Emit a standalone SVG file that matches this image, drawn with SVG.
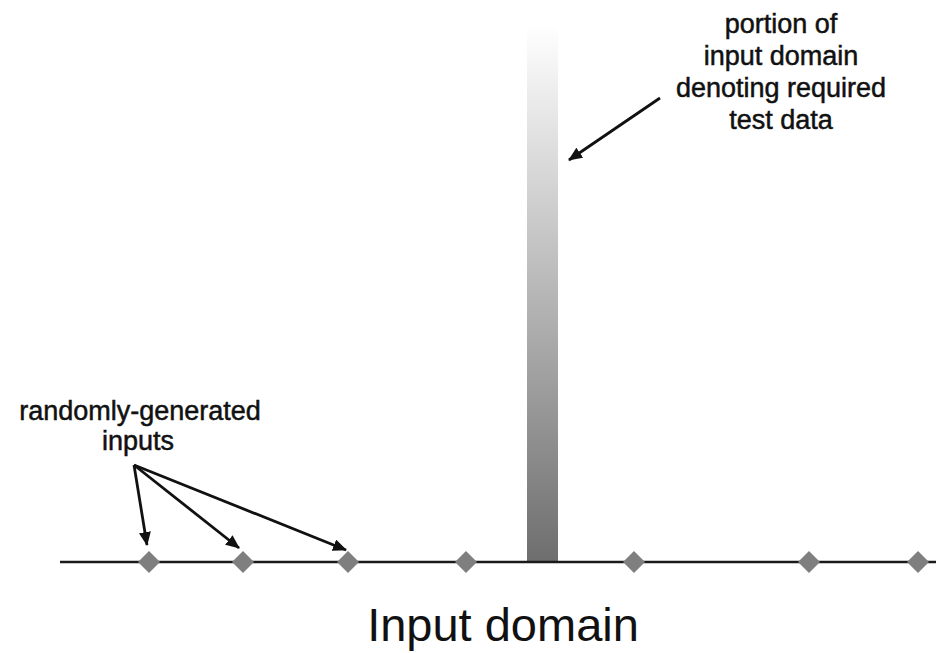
<svg xmlns="http://www.w3.org/2000/svg" width="936" height="653" viewBox="0 0 936 653">
<defs>
<linearGradient id="bar" x1="0" y1="0" x2="0" y2="1">
<stop offset="0" stop-color="#ffffff"/>
<stop offset="1" stop-color="#6e6e6e"/>
</linearGradient>
<marker id="ah" markerWidth="14" markerHeight="12" refX="13" refY="6" orient="auto" markerUnits="userSpaceOnUse">
<path d="M0,0 L14,6 L0,12 z" fill="#111"/>
</marker>
<style>
.lbl{font-family:"Liberation Sans",Arial,sans-serif;font-size:27px;fill:#111;stroke:#111;stroke-width:0.5;text-anchor:middle}
.big{font-family:"Liberation Sans",Arial,sans-serif;font-size:47px;fill:#111;text-anchor:middle}
.dot{fill:#7f7f7f}
.arr{stroke:#111;stroke-width:2.8;fill:none;marker-end:url(#ah)}
</style>
</defs>
<rect width="936" height="653" fill="#fff"/>
<g id="required-region">
<rect x="527" y="25" width="31" height="537" fill="url(#bar)"/>
</g>
<g id="axis">
<line x1="60" y1="562" x2="936" y2="562" stroke="#1a1a1a" stroke-width="2.5"/>
</g>
<g id="inputs">
<path class="dot" d="M149,551 l11,11 l-11,11 l-11,-11 z"/>
<path class="dot" d="M243,551 l11,11 l-11,11 l-11,-11 z"/>
<path class="dot" d="M348,551 l11,11 l-11,11 l-11,-11 z"/>
<path class="dot" d="M466,551 l11,11 l-11,11 l-11,-11 z"/>
<path class="dot" d="M634,551 l11,11 l-11,11 l-11,-11 z"/>
<path class="dot" d="M809,551 l11,11 l-11,11 l-11,-11 z"/>
<path class="dot" d="M918,551 l11,11 l-11,11 l-11,-11 z"/>
</g>
<g id="connectors">
<line class="arr" x1="134" y1="465" x2="147" y2="545"/>
<line class="arr" x1="134" y1="465" x2="239" y2="548"/>
<line class="arr" x1="134" y1="465" x2="346" y2="550"/>
<line class="arr" x1="660" y1="98" x2="569" y2="160"/>
</g>
<g id="label-random">
<text class="lbl" x="140" y="420">randomly-generated</text>
<text class="lbl" x="138" y="450">inputs</text>
</g>
<g id="label-portion">
<text class="lbl" x="781" y="33">portion of</text>
<text class="lbl" x="781" y="65">input domain</text>
<text class="lbl" x="781" y="97">denoting required</text>
<text class="lbl" x="781" y="129">test data</text>
</g>
<g id="title">
<text class="big" x="503" y="641">Input domain</text>
</g>
</svg>
